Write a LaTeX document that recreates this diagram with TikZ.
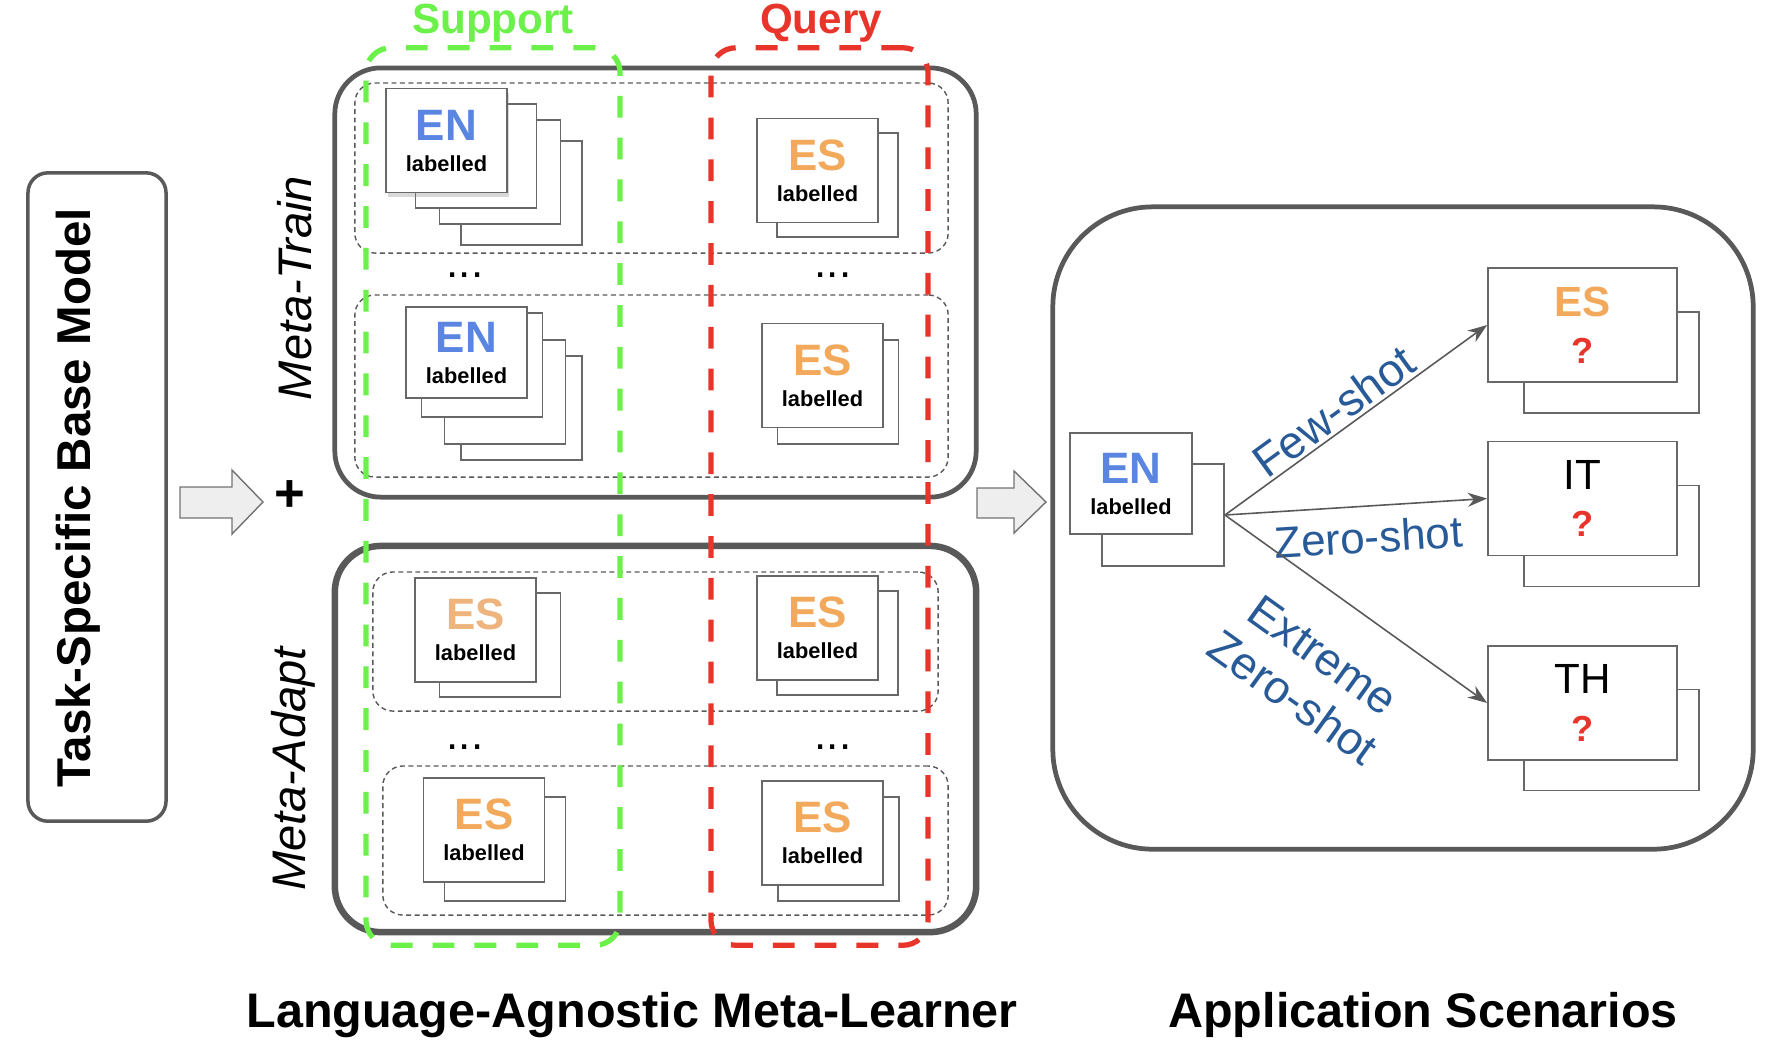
\documentclass[tikz,border=0pt]{standalone}
\usepackage{fontspec}
\setmainfont{Liberation Sans}
\usetikzlibrary{arrows.meta,shadows}
\definecolor{enblue}{HTML}{5A86E2}
\definecolor{esorange}{HTML}{F3A95B}
\definecolor{esfaded}{HTML}{EDB47E}
\definecolor{supgreen}{HTML}{6CF04A}
\definecolor{qryred}{HTML}{E8352B}
\definecolor{shotblue}{HTML}{285A98}
\definecolor{framegray}{HTML}{595959}
\definecolor{pagegray}{HTML}{686868}
% two-line text of a labelled document
\newcommand{\langdoc}[2]{{\fontsize{12.5pt}{8.8pt}\selectfont\color{#1}#2}\\labelled}
% two-line text of a target language with unknown labels
\newcommand{\langask}[1]{{\fontsize{12pt}{13.5pt}\selectfont#1}\\{\bfseries\color{qryred}?}}
\begin{document}
\begin{tikzpicture}[x=0.01cm,y=-0.01cm,>={Stealth[length=5.5pt,width=4pt]},
    page/.style={draw=pagegray, line width=0.5pt, fill=white, inner sep=0pt,
        minimum width=1.21cm, minimum height=1.04cm,
        align=center, font=\fontsize{6.2pt}{8.8pt}\selectfont\bfseries},
    card/.style={page, minimum width=1.89cm, minimum height=1.14cm,
        font=\fontsize{10.3pt}{13.5pt}\selectfont},
    cardback/.style={page, minimum width=1.75cm, minimum height=1.01cm},
    group/.style={draw=framegray, rounded corners=0.46cm, inner sep=0pt},
    episode/.style={draw=framegray, line width=0.4pt, dash pattern=on 1.4pt off 1pt,
        rounded corners=0.2cm, inner sep=0pt},
    setframe/.style={line width=1.5pt, dash pattern=on 6.2pt off 5.7pt,
        rounded corners=0.25cm, inner sep=0pt, minimum height=8.97cm},
    blockarrow/.style={draw=black!55, fill=gray!13, line width=0.4pt},
    phase/.style={rotate=90, anchor=base, font=\fontsize{13.4pt}{13.4pt}\selectfont\itshape},
    caption/.style={anchor=base, font=\fontsize{13.8pt}{13.8pt}\selectfont\bfseries},
    dots/.style={font=\fontsize{12.5pt}{12.5pt}\selectfont},
    flow/.style={->, draw=framegray, line width=0.45pt},
    shot/.style={text=shotblue, sloped, font=\fontsize{13pt}{14.8pt}\selectfont}]
    \useasboundingbox (0,0) rectangle (1770,1062);

    % base model
    \node (base) [group, line width=1pt, rounded corners=0.2cm, minimum width=1.38cm, minimum height=6.48cm] at (97,497) {};
    \node (baseText) [rotate=90, anchor=base, font=\fontsize{13.5pt}{13.5pt}\selectfont\bfseries] at (90,498) {Task-Specific Base Model};
    \draw[blockarrow] (180,487) -- (232,487) -- (232,470) -- (263,502) -- (232,534) -- (232,518) -- (180,518) -- cycle;
    \node (plus) [font=\fontsize{15pt}{15pt}\selectfont\bfseries] at (290,496) {+};
    \node (trainText) [phase] at (311,288) {Meta-Train};
    \node (adaptText) [phase] at (305,769) {Meta-Adapt};

    % meta-learner
    \node (train) [group, line width=1.35pt, minimum width=6.41cm, minimum height=4.29cm] at (655.5,282.5) {};
    \node (adapt) [group, line width=1.85pt, minimum width=6.41cm, minimum height=3.86cm] at (655.5,739) {};
    \node (trainA) [episode, minimum width=5.93cm, minimum height=1.70cm] at (651.5,168) {};
    \node (trainB) [episode, minimum width=5.93cm, minimum height=1.82cm] at (651.5,386) {};
    \node (adaptA) [episode, minimum width=5.65cm, minimum height=1.39cm] at (655.5,641.5) {};
    \node (adaptB) [episode, minimum width=5.65cm, minimum height=1.49cm] at (665.5,840.5) {};
    \node (trainDotsS) [dots] at (465,275) {...};
    \node (trainDotsQ) [dots] at (833,275) {...};
    \node (adaptDotsS) [dots] at (465,747) {...};
    \node (adaptDotsQ) [dots] at (833,747) {...};

    \node (trainEnA4) [page] at (521.5,193) {};
    \node (trainEnA3) [page] at (500,172) {};
    \node (trainEnA2) [page] at (476,156) {};
    \node (trainEnA) [page, drop shadow={opacity=0.3, shadow xshift=0.6pt, shadow yshift=-1.4pt}] at (446.5,140.5) {\langdoc{enblue}{EN}};
    \node (trainEsA2) [page] at (837.5,185) {};
    \node (trainEsA) [page] at (817.5,170.5) {\langdoc{esorange}{ES}};

    \node (trainEnB4) [page] at (521.5,408) {};
    \node (trainEnB3) [page] at (505,392) {};
    \node (trainEnB2) [page] at (482,365) {};
    \node (trainEnB) [page, minimum height=0.91cm] at (466.5,352.5) {\langdoc{enblue}{EN}};
    \node (trainEsB2) [page] at (838,392) {};
    \node (trainEsB) [page] at (822.5,375.5) {\langdoc{esorange}{ES}};

    \node (adaptSupA2) [page] at (500,645) {};
    \node (adaptSupA) [page] at (475.5,630) {\langdoc{esfaded}{ES}};
    \node (adaptQryA2) [page] at (837.5,643) {};
    \node (adaptQryA) [page] at (817.5,628) {\langdoc{esorange}{ES}};
    \node (adaptSupB2) [page] at (505,849) {};
    \node (adaptSupB) [page] at (484,830) {\langdoc{esorange}{ES}};
    \node (adaptQryB2) [page] at (838.5,849) {};
    \node (adaptQryB) [page] at (822.5,833) {\langdoc{esorange}{ES}};

    \node (support) [setframe, draw=supgreen, minimum width=2.54cm] at (493,496.5) {};
    \node (query) [setframe, draw=qryred, minimum width=2.17cm] at (819.5,496.5) {};
    \node (supportText) [anchor=base, text=supgreen, font=\fontsize{12pt}{12pt}\selectfont\bfseries] at (493,33) {Support};
    \node (queryText) [anchor=base, text=qryred, font=\fontsize{12pt}{12pt}\selectfont\bfseries] at (821,33) {Query};

    \draw[blockarrow] (977,488) -- (1014,488) -- (1014,471) -- (1046,502) -- (1014,533) -- (1014,518) -- (977,518) -- cycle;

    % application scenarios
    \node (scen) [group, line width=1.35pt, rounded corners=1cm, minimum width=7cm, minimum height=6.42cm] at (1403,528) {};
    \node (appEnBack) [page, minimum width=1.22cm, minimum height=1.02cm] at (1163,515) {};
    \node (appEn) [page, minimum width=1.22cm, minimum height=1.01cm] at (1131,483.5) {\langdoc{enblue}{EN}};
    \node (appEsBack) [cardback] at (1611.5,362.5) {};
    \node (appEs) [card] at (1582.5,325) {\langask{\bfseries\color{esorange}ES}};
    \node (appItBack) [cardback] at (1611.5,536) {};
    \node (appIt) [card] at (1582.5,498.5) {\langask{IT}};
    \node (appThBack) [cardback] at (1611.5,740) {};
    \node (appTh) [card] at (1582.5,703) {\langask{TH}};

    \draw[flow] (appEnBack.east) -- node[shot, above, pos=0.46, inner sep=0.8pt] {Few-shot} (appEs.west);
    \draw[flow] (appEnBack.east) -- node[shot, below, pos=0.54, inner sep=4pt, font=\fontsize{12.5pt}{12.5pt}\selectfont] {Zero-shot} (appIt.west);
    \draw[flow] (appEnBack.east) -- node[shot, below, pos=0.5, inner sep=11.4pt, align=center] {Extreme\\Zero-shot} (appTh.west);

    \node (learnerText) [caption] at (632,1027) {Language-Agnostic Meta-Learner};
    \node (scenText) [caption] at (1423,1027) {Application Scenarios};
\end{tikzpicture}
\end{document}
